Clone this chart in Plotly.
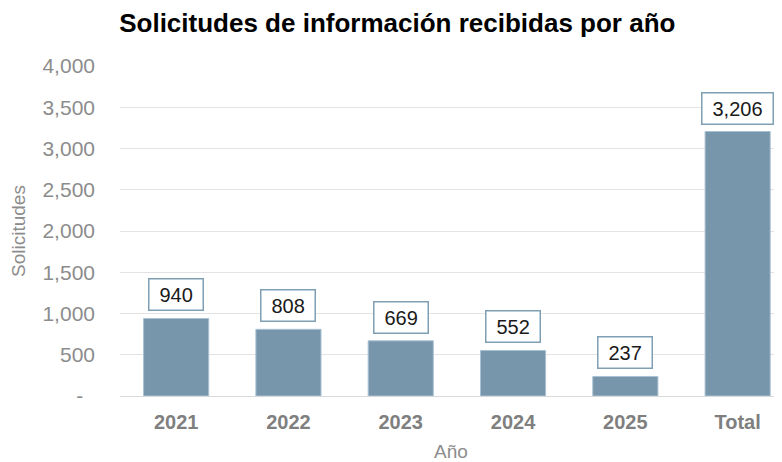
import plotly.graph_objects as go

categories = ["2021", "2022", "2023", "2024", "2025", "Total"]
values = [940, 808, 669, 552, 237, 3206]
tick_vals = [0, 500, 1000, 1500, 2000, 2500, 3000, 3500, 4000]
tick_text = ["-\u00a0\u00a0", "500", "1,000", "1,500", "2,000", "2,500", "3,000", "3,500", "4,000"]

BAR = "#7896ab"
GRAY = "#8c8c8c"
FONT = "Liberation Sans, Arial"

fig = go.Figure()
fig.add_trace(go.Bar(
    x=categories, y=values,
    marker=dict(color=BAR, line=dict(color="#a9c2d3", width=1)),
    width=0.58,
    hoverinfo="x+y",
))

for i, (c, v) in enumerate(zip(categories, values)):
    txt = f"{v:,}"
    tw = sum(5.56 if ch == "," else 11.12 for ch in txt)
    fig.add_annotation(
        x=i, y=v, xref="x", yref="y", text=txt, showarrow=False,
        yanchor="bottom", yshift=7,
        font=dict(family=FONT, size=20, color="#1a1a1a"),
        bgcolor="white", bordercolor="#7f9fb4", borderwidth=1.5, borderpad=4,
        width=tw + 12,
    )

fig.update_layout(
    width=774, height=454,
    margin=dict(l=112, r=0, t=58, b=66),
    paper_bgcolor="white", plot_bgcolor="white",
    font=dict(family=FONT, color=GRAY),
    title=dict(
        text="<b>Solicitudes de información recibidas por año</b>",
        x=0.503, xanchor="center", y=0.967, yanchor="middle",
        font=dict(family=FONT, size=26, color="black"),
    ),
    showlegend=False,
    bargap=0.42,
)
fig.update_xaxes(
    type="category", range=[-0.5, 5.395],
    tickfont=dict(size=20, color="#7f7f7f", family=FONT),
    tickprefix="<b>", ticksuffix="</b>",
    ticklabelstandoff=8,
    title=dict(text="Año", font=dict(size=19, color=GRAY), standoff=14),
    showline=True, linecolor="#d9d9d9", linewidth=1,
    ticks="", automargin=False,
)
fig.update_yaxes(
    range=[0, 4000], tickvals=tick_vals, ticktext=tick_text,
    tickfont=dict(size=21, color=GRAY),
    showgrid=True, gridcolor="#e3e3e3", gridwidth=1,
    zeroline=False, ticklabelstandoff=24,
    title=dict(text="Solicitudes", font=dict(size=19, color=GRAY), standoff=17),
    automargin=False,
)

fig.write_html("out.html")
